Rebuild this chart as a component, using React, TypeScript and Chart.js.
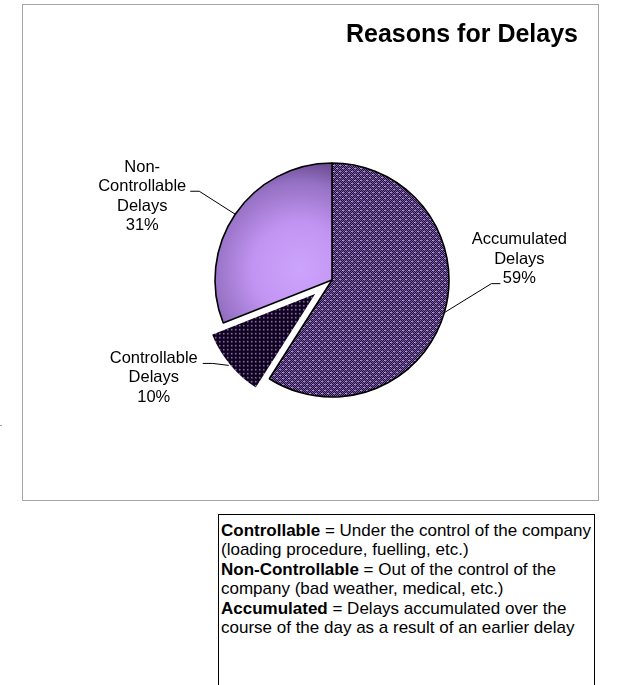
import React, { useEffect, useRef } from "react";
import { Chart, registerables } from "chart.js";
Chart.register(...registerables);

// ---- data ----
const categories = ["Accumulated Delays", "Controllable Delays", "Non-Controllable Delays"];
const labelLines = [["Accumulated", "Delays"], ["Controllable", "Delays"], ["Non-", "Controllable", "Delays"]];
const values = [59, 10, 31];
const explode = [0, 17, 0];

const chartTitle = "Reasons for Delays";
const noteLines: [string, string][] = [
  ["Controllable", " = Under the control of the company"],
  ["", "(loading procedure, fuelling, etc.)"],
  ["Non-Controllable", " = Out of the control of the"],
  ["", "company (bad weather, medical, etc.)"],
  ["Accumulated", " = Delays accumulated over the"],
  ["", "course of the day as a result of an earlier delay"],
];

// ---- layout / style ----
const FONT = '"Liberation Sans", Arial, Helvetica, sans-serif';
// label placement relative to the slice's outer edge point at mid-angle
const labelLayout = [
  { tx: 75, ty: -73, ex: 47, ey: -29, hx: 56 },
  { tx: -75, ty: -7, ex: -16, ey: -2, hx: -26 },
  { tx: -93, ty: -47, ex: -36, ey: -23, hx: -45 },
];

function makePattern(ctx: CanvasRenderingContext2D, w: number, h: number, draw: (g: CanvasRenderingContext2D) => void) {
  const c = document.createElement("canvas");
  c.width = w;
  c.height = h;
  const g = c.getContext("2d")!;
  draw(g);
  return ctx.createPattern(c, "repeat")!;
}

// draws each slice pulled straight out along its mid-angle (pure translation)
const explodePlugin = {
  id: "explodeSlices",
  beforeDatasetDraw(chart: any, args: any) {
    const ctx: CanvasRenderingContext2D = chart.ctx;
    args.meta.data.forEach((arc: any, i: number) => {
      const p = arc.getProps(["startAngle", "endAngle"], true);
      const mid = (p.startAngle + p.endAngle) / 2;
      ctx.save();
      ctx.translate(Math.cos(mid) * explode[i], Math.sin(mid) * explode[i]);
      arc.draw(ctx, chart.chartArea);
      ctx.restore();
    });
    return false;
  },
};

const labelPlugin = {
  id: "sliceLabels",
  afterDatasetsDraw(chart: any) {
    const ctx: CanvasRenderingContext2D = chart.ctx;
    const meta = chart.getDatasetMeta(0);
    const total = values.reduce((a, b) => a + b, 0);
    ctx.save();
    ctx.font = `16.5px ${FONT}`;
    ctx.fillStyle = "#000";
    ctx.strokeStyle = "#000";
    ctx.lineWidth = 1;
    ctx.textAlign = "center";
    ctx.textBaseline = "middle";
    meta.data.forEach((arc: any, i: number) => {
      const p = arc.getProps(["x", "y", "startAngle", "endAngle", "outerRadius"], true);
      const mid = (p.startAngle + p.endAngle) / 2;
      const r = p.outerRadius + explode[i];
      const px = p.x + Math.cos(mid) * r;
      const py = p.y + Math.sin(mid) * r;
      const L = labelLayout[i];
      ctx.beginPath();
      ctx.moveTo(px, py);
      ctx.lineTo(px + L.ex, py + L.ey);
      ctx.lineTo(px + L.hx, py + L.ey);
      ctx.stroke();
      const pct = Math.round((values[i] / total) * 100) + "%";
      const lines = [...labelLines[i], pct];
      lines.forEach((t, k) => {
        ctx.fillText(t, px + L.tx, py + L.ty + k * 19.5);
      });
    });
    ctx.restore();
  },
};

export default function App() {
  const ref = useRef<HTMLCanvasElement>(null);
  useEffect(() => {
    const canvas = ref.current!;
    const c2d = canvas.getContext("2d")!;
    const accPattern = makePattern(c2d, 6, 6, (g) => {
      for (let y = 0; y < 6; y++)
        for (let x = 0; x < 6; x++) {
          g.fillStyle = (x + y) % 2 === 0 ? "#7a5ca8" : "#1c102e";
          g.fillRect(x, y, 1, 1);
        }
      for (const [cx, cy] of [[1, 1], [4, 4]]) {
        g.fillStyle = "#c8a2fa";
        g.fillRect(cx, cy, 1, 1);
      }
      g.fillStyle = "#9a78cc";
      g.fillRect(2, 1, 1, 1);
      g.fillRect(5, 4, 1, 1);
    });
    const ctrlPattern = makePattern(c2d, 4, 4, (g) => {
      g.fillStyle = "#0e0618";
      g.fillRect(0, 0, 4, 4);
      g.fillStyle = "#9a68d0";
      g.fillRect(1, 1, 1, 1);
      g.fillStyle = "#5a3a88";
      g.fillRect(2, 1, 1, 1);
      g.fillRect(1, 2, 1, 1);
      g.fillStyle = "#3a2458";
      g.fillRect(2, 2, 1, 1);
    });
    const chart = new Chart(canvas, {
      type: "pie",
      data: {
        labels: categories,
        datasets: [
          {
            data: values,
            radius: 117,
            backgroundColor: (ctx: any) => {
              const i = ctx.dataIndex;
              if (i === 0) return accPattern;
              if (i === 1) return ctrlPattern;
              const a = ctx.chart.chartArea;
              if (!a) return "#a884d8";
              const cx = (a.left + a.right) / 2;
              const cy = (a.top + a.bottom) / 2;
              const g = ctx.chart.ctx.createRadialGradient(cx - 32, cy - 10, 0, cx - 32, cy - 10, 118);
              g.addColorStop(0, "#cca4fc");
              g.addColorStop(0.4, "#c294f2");
              g.addColorStop(0.75, "#9470c2");
              g.addColorStop(1, "#5a3c7c");
              return g;
            },
            borderColor: ["#000000", "#ffffff", "#000000"],
            borderWidth: [1.6, 3, 1.6],
          } as any,
        ],
      },
      options: {
        responsive: false,
        animation: false,
        layout: { padding: { left: 159, right: 116, top: 125, bottom: 70 } },
        plugins: {
          legend: { display: false },
          tooltip: { enabled: false },
          title: { display: false },
        },
        events: [],
      },
      plugins: [explodePlugin, labelPlugin],
    });
    return () => chart.destroy();
  }, []);

  return (
    <div style={{ position: "absolute", left: 0, top: 0, width: 618, height: 685, background: "#fff", overflow: "hidden", fontFamily: FONT }}>
      <div style={{ position: "absolute", left: 0, top: 425, width: 2, height: 1, background: "#a6a6a6" }} />
      <div
        style={{
          position: "absolute",
          left: 22,
          top: 4,
          width: 575,
          height: 495,
          border: "1px solid #a6a6a6",
        }}
      >
        <canvas ref={ref} width={575} height={495} style={{ position: "absolute", left: 0, top: 0, width: 575, height: 495 }} />
        <div
          style={{
            position: "absolute",
            left: 200,
            width: 355,
            top: 13,
            textAlign: "right",
            fontWeight: "bold",
            fontSize: 25,
            lineHeight: "30px",
            color: "#000",
            whiteSpace: "nowrap",
          }}
        >
          {chartTitle}
        </div>
      </div>
      <div
        style={{
          position: "absolute",
          left: 218,
          top: 514,
          width: 377,
          height: 200,
          border: "1px solid #000",
          padding: "6px 0 0 2px",
          boxSizing: "border-box",
          fontSize: 17,
          lineHeight: "19.4px",
          color: "#000",
          whiteSpace: "nowrap",
        }}
      >
        {noteLines.map(([b, t], i) => (
          <div key={i}>
            {b ? <b>{b}</b> : null}
            {t}
          </div>
        ))}
      </div>
    </div>
  );
}
